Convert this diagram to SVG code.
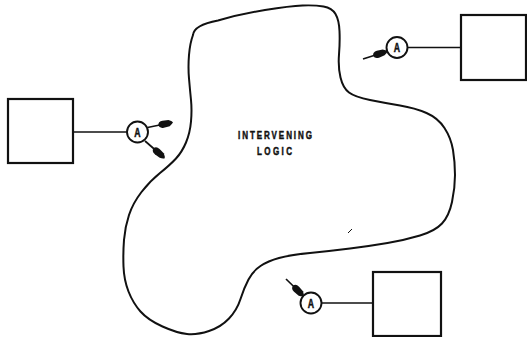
<svg xmlns="http://www.w3.org/2000/svg" width="527" height="337" viewBox="0 0 527 337">
<style>
.box{fill:none;stroke:#111;stroke-width:2.2}
.blob{fill:none;stroke:#111;stroke-width:2;stroke-linejoin:round}
.wire{fill:none;stroke:#111;stroke-width:1.6}
.circ{fill:#fff;stroke:#111;stroke-width:1.9}
.lbl{font-family:"Liberation Sans",Arial,sans-serif;font-weight:bold;fill:#111;stroke:#111;stroke-width:0.5}
.arr{fill:none;stroke:#111;stroke-width:1.7;marker-end:url(#head)}
</style>
<defs>
<marker id="head" markerUnits="userSpaceOnUse" viewBox="-15 -5 17 10" refX="0" refY="0" markerWidth="17" markerHeight="10" orient="auto">
<path d="M-14,0 Q-13.5,-3.6 -9,-3.6 L-3,-3.1 Q0,-1.6 1,0 Q0,1.6 -3,3.1 L-9,3.6 Q-13.5,3.6 -14,0 Z" fill="#111"/>
</marker>
</defs>
<g id="logic">
<path class="blob" d="M193,35 Q194,25 218,20.5 Q240,14 265,10 Q290,6 302.5,5.5 Q315,5 323.5,6.5 Q332,8 335.5,14 Q339,20 339.5,31 Q340,42 339,54.5 Q338,67 340.5,77.5 Q343,88 349,92.5 Q355,97 370,100 Q385,103 400,105.5 Q415,108 426.5,113 Q438,118 444.5,128 Q451,138 453,150 Q455,162 455,175 Q455,188 452,202 Q449,216 442,223.5 Q435,231 420,235.5 Q405,240 387.5,243 Q370,246 350,248.5 Q330,251 310,253 Q290,255 279,258 Q268,261 260.5,266 Q253,271 248.5,279.5 Q244,288 240.5,299 Q237,310 229,318.5 Q221,327 209,331 Q197,335 187,334 Q177,333 162.5,326.5 Q148,320 140.5,311.5 Q133,303 128.5,291.5 Q124,280 123.5,266.5 Q123,253 124,240 Q125,227 129,215 Q133,203 141.5,192 Q150,181 160,173 Q170,165 176,158.5 Q182,152 186,142.5 Q190,133 191,121.5 Q192,110 191,100 Q190,90 189,78.5 Q188,67 189,55 Q190,43 193,35 Z"/>
<line x1="348" y1="233" x2="352" y2="229" stroke="#111" stroke-width="1"/>
<text class="lbl" transform="translate(275,139) scale(0.7,1)" x="0" y="0" font-size="11.5" text-anchor="middle" textLength="105.7" lengthAdjust="spacing">INTERVENING</text>
<text class="lbl" transform="translate(274.5,155) scale(0.7,1)" x="0" y="0" font-size="11.5" text-anchor="middle" textLength="50" lengthAdjust="spacing">LOGIC</text>
</g>
<g id="box-left"><rect class="box" x="8" y="99" width="65" height="64"/></g>
<g id="box-top-right"><rect class="box" x="461" y="15" width="65" height="65"/></g>
<g id="box-bottom"><rect class="box" x="373" y="272" width="68" height="64"/></g>
<g id="connectors">
<line class="wire" x1="73" y1="132" x2="127" y2="132"/>
<line class="wire" x1="407.5" y1="47.5" x2="461" y2="47.5"/>
<line class="wire" x1="322" y1="303" x2="373" y2="303"/>
<path class="arr" d="M147.5,127.5 L172,122.5"/>
<path class="arr" d="M145,141 L164,157.5"/>
<path class="arr" d="M363,59 L386.5,51.5"/>
<path class="arr" d="M286,279 L303,295.5"/>
</g>
<g id="probe-left">
<circle class="circ" cx="137.5" cy="132" r="10.5"/>
<text class="lbl" transform="translate(137.5,136.5) scale(0.7,1)" font-size="12.5" text-anchor="middle">A</text>
</g>
<g id="probe-top-right">
<circle class="circ" cx="397" cy="47.5" r="10.5"/>
<text class="lbl" transform="translate(397,52) scale(0.7,1)" font-size="12.5" text-anchor="middle">A</text>
</g>
<g id="probe-bottom">
<circle class="circ" cx="311" cy="303" r="10.5"/>
<text class="lbl" transform="translate(311,307.5) scale(0.7,1)" font-size="12.5" text-anchor="middle">A</text>
</g>
</svg>
